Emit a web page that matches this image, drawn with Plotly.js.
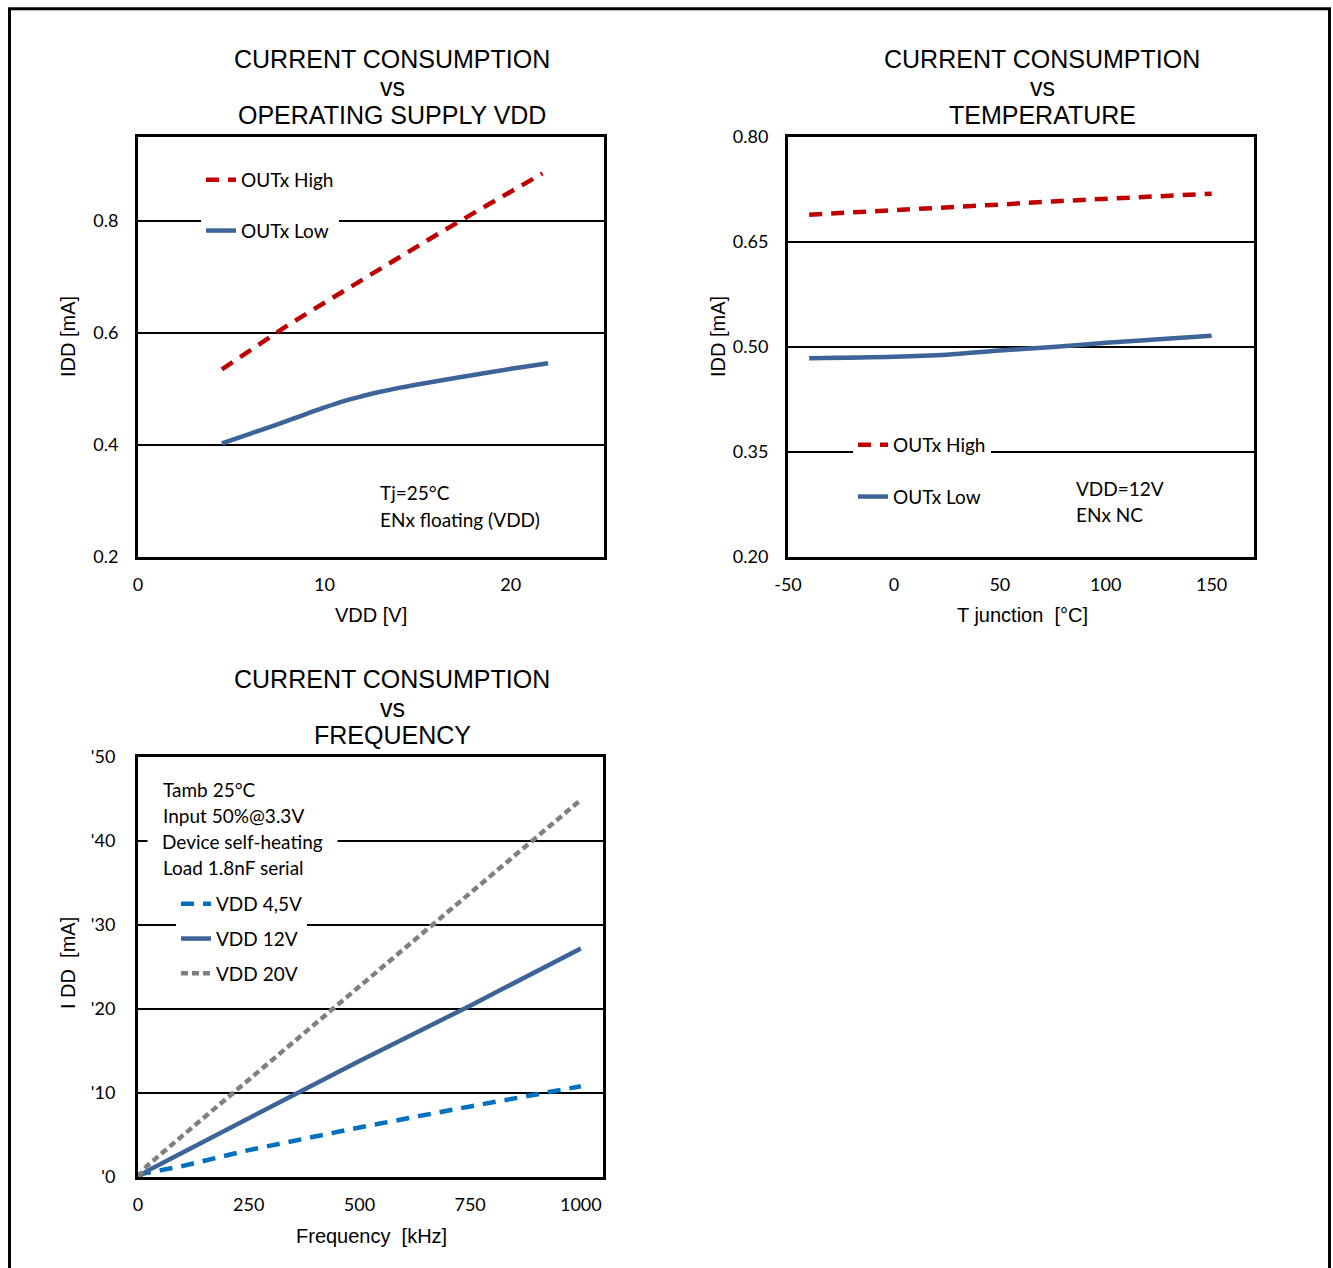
<!DOCTYPE html>
<html><head><meta charset="utf-8">
<script src="https://cdn.plot.ly/plotly-3.0.1.min.js"></script>
<style>html,body{margin:0;padding:0;background:#fff}</style>
</head><body><div id="chart" style="width:1333px;height:1268px"></div>
<script>
// ---------- Data ----------
// Chart 1: current vs supply VDD
const vddHighX = [4.5, 6, 8, 10, 12, 14, 16, 18, 20, 21.7];
const vddHighY = [0.535, 0.569, 0.613, 0.654, 0.695, 0.735, 0.775, 0.814, 0.852, 0.885];
const vddLowX  = [4.5, 6, 8, 10, 11, 12, 13, 14, 16, 18, 20, 22];
const vddLowY  = [0.403, 0.420, 0.443, 0.467, 0.478, 0.487, 0.495, 0.502, 0.514, 0.525, 0.536, 0.546];
const vddXTicks = [0, 10, 20];
const vddYTicks = [0.2, 0.4, 0.6, 0.8];

// Chart 2: current vs temperature
const tempX     = [-40, 0, 25, 50, 75, 100, 125, 150];
const tempHighY = [0.689, 0.695, 0.699, 0.7035, 0.708, 0.712, 0.7155, 0.719];
const tempLowY  = [0.484, 0.486, 0.489, 0.495, 0.500, 0.506, 0.511, 0.516];
const tempXTicks = [-50, 0, 50, 100, 150];
const tempXText  = ["-50", "0", "50", "100", "150"];
const tempYTicks = [0.20, 0.35, 0.50, 0.65, 0.80];

// Chart 3: current vs frequency
const freqX      = [0, 20, 100, 250, 500, 750, 1000];
const freq45Y    = [0.3, 0.5, 1.3, 3.2, 5.9, 8.4, 10.8];
const freq12Y    = [0, 0.7, 2.9, 7.0, 13.8, 20.4, 27.2];
const freq20Y    = [0, 1.3, 4.9, 11.6, 22.7, 33.8, 44.9];
const freqXTicks = [0, 250, 500, 750, 1000];
const freqYTicks = [0, 10, 20, 30, 40, 50];
const freqYText  = ["'0", "'10", "'20", "'30", "'40", "'50"];

const seriesNames1 = ["OUTx High", "OUTx Low"];
const seriesNames3 = ["VDD 4,5V", "VDD 12V", "VDD 20V"];
const title1 = ["CURRENT CONSUMPTION", "vs", "OPERATING SUPPLY VDD"];
const title2 = ["CURRENT CONSUMPTION", "vs", "TEMPERATURE"];
const title3 = ["CURRENT CONSUMPTION", "vs", "FREQUENCY"];
const note1 = ["Tj=25°C", "ENx floating (VDD)"];
const note2 = ["VDD=12V", "ENx NC"];
const note3 = ["Device self-heating", "Tamb 25°C", "Input 50%@3.3V", "Load 1.8nF serial"];

// ---------- Layout helpers ----------
const W = 1333, H = 1268;
const px = v => v / W;
const py = v => 1 - v / H;
const RED = '#C00000', BLUE = '#3D6498', LBLUE = '#0070C0', GRAY = '#808080';
const tickFont = {family: 'Lato, sans-serif', size: 18, color: '#000'};
const legFont = {family: 'Lato, sans-serif', size: 19, color: '#000'};

const traces = [
  {x: vddHighX, y: vddHighY, name: seriesNames1[0], xaxis: 'x', yaxis: 'y', legend: 'legend', legendgroup: 'a1',
   mode: 'lines', line: {color: RED, width: 4.5, dash: '13px,9px'}},
  {x: vddLowX, y: vddLowY, name: seriesNames1[1], xaxis: 'x', yaxis: 'y', legend: 'legend', legendgroup: 'a2',
   mode: 'lines', line: {color: BLUE, width: 4.5, shape: 'spline'}},
  {x: tempX, y: tempHighY, name: seriesNames1[0], xaxis: 'x2', yaxis: 'y2', legend: 'legend2', legendgroup: 'b1',
   mode: 'lines', line: {color: RED, width: 4.5, dash: '13px,9px'}},
  {x: tempX, y: tempLowY, name: seriesNames1[1], xaxis: 'x2', yaxis: 'y2', legend: 'legend2', legendgroup: 'b2',
   mode: 'lines', line: {color: BLUE, width: 4.5, shape: 'spline'}},
  {x: freqX, y: freq45Y, name: seriesNames3[0], xaxis: 'x3', yaxis: 'y3', legend: 'legend3', legendgroup: 'c1',
   mode: 'lines', line: {color: LBLUE, width: 4.5, dash: '13px,9px'}},
  {x: freqX, y: freq12Y, name: seriesNames3[1], xaxis: 'x3', yaxis: 'y3', legend: 'legend3', legendgroup: 'c2',
   mode: 'lines', line: {color: BLUE, width: 4.5}},
  {x: freqX, y: freq20Y, name: seriesNames3[2], xaxis: 'x3', yaxis: 'y3', legend: 'legend3', legendgroup: 'c3',
   mode: 'lines', line: {color: GRAY, width: 4.5, dash: '7px,4px'}}
];

function xAx(dom, anchor, range, ticks, extra) {
  return Object.assign({domain: dom, anchor: anchor, range: range, tickvals: ticks, showgrid: false, zeroline: false,
    showline: true, mirror: true, linecolor: '#000', linewidth: 3, ticks: 'outside', ticklen: 9,
    tickcolor: 'rgba(0,0,0,0)', tickfont: tickFont, fixedrange: true}, extra || {});
}
function yAx(dom, anchor, range, ticks, extra) {
  return Object.assign({domain: dom, anchor: anchor, range: range, tickvals: ticks, showgrid: true,
    gridcolor: '#000', gridwidth: 2, zeroline: false, showline: true, mirror: true, linecolor: '#000',
    linewidth: 3, ticks: 'outside', ticklen: 13, tickcolor: 'rgba(0,0,0,0)', tickfont: tickFont,
    fixedrange: true}, extra || {});
}

const ann = [];
function txt(t, x, y, opts) {
  ann.push(Object.assign({text: t, x: px(x), y: py(y), xref: 'paper', yref: 'paper', showarrow: false,
    xanchor: 'center', yanchor: 'middle',
    font: {family: 'Liberation Sans, Arial, sans-serif', size: 25, color: '#000'}}, opts || {}));
}
const titleYs1 = [59, 87, 115], titleYs3 = [679, 708, 735];
title1.forEach((t, i) => txt(t, 392, titleYs1[i]));
title2.forEach((t, i) => txt(t, 1042, titleYs1[i]));
title3.forEach((t, i) => txt(t, 392, titleYs3[i]));

const axTitleFont = {family: 'Liberation Sans, Arial, sans-serif', size: 20, color: '#000'};
txt('VDD [V]', 371, 615, {font: axTitleFont});
txt('IDD [mA]', 68, 337, {font: axTitleFont, textangle: -90});
txt('T junction  [°C]', 1022, 615, {font: axTitleFont});
txt('IDD [mA]', 718, 337, {font: axTitleFont, textangle: -90});
txt('Frequency  [kHz]', 371, 1236, {font: axTitleFont});
txt('I DD  [mA]', 68, 963, {font: axTitleFont, textangle: -90});

const noteFont = {family: 'Lato, sans-serif', size: 19, color: '#000'};
note1.forEach((t, i) => txt(t, 378, [492, 519][i], {font: noteFont, xanchor: 'left'}));
note2.forEach((t, i) => txt(t, 1074, [488, 515][i], {font: noteFont, xanchor: 'left'}));
// "Device self-heating" first: its white box breaks the gridline behind it
txt(note3[0], 147, 841, {font: noteFont, xanchor: 'left', bgcolor: '#fff', borderpad: 14, align: 'left'});
txt(note3[1], 161, 789, {font: noteFont, xanchor: 'left'});
txt(note3[2], 161, 815, {font: noteFont, xanchor: 'left'});
txt(note3[3], 161, 867, {font: noteFont, xanchor: 'left'});

const layout = {
  width: W, height: H, margin: {l: 0, r: 0, t: 0, b: 0}, paper_bgcolor: '#fff', plot_bgcolor: '#fff',
  showlegend: true,
  xaxis:  xAx([px(138), px(604)], 'y', [0, 25], vddXTicks),
  yaxis:  yAx([py(557), py(137)], 'x', [0.2, 0.95], vddYTicks),
  xaxis2: xAx([px(788), px(1254)], 'y2', [-50, 170], tempXTicks, {ticktext: tempXText}),
  yaxis2: yAx([py(557), py(137)], 'x2', [0.2, 0.8], tempYTicks, {tickformat: '.2f'}),
  xaxis3: xAx([px(138), px(603)], 'y3', [0, 1050], freqXTicks),
  yaxis3: yAx([py(1177), py(757)], 'x3', [0, 50], freqYTicks, {ticktext: freqYText, ticklen: 16}),
  legend:  {x: px(201), y: py(161), xanchor: 'left', yanchor: 'top', bgcolor: '#fff', font: legFont,
            traceorder: 'grouped', tracegroupgap: 23},
  legend2: {x: px(853), y: py(426), xanchor: 'left', yanchor: 'top', bgcolor: '#fff', font: legFont,
            traceorder: 'grouped', tracegroupgap: 24},
  legend3: {x: px(176), y: py(885), xanchor: 'left', yanchor: 'top', bgcolor: '#fff', font: legFont,
            traceorder: 'grouped', tracegroupgap: 7},
  annotations: ann,
  shapes: [{type: 'rect', xref: 'paper', yref: 'paper', x0: px(9.5), x1: px(1329.5), y0: -0.02, y1: py(8.7),
            line: {color: '#000', width: 3}, fillcolor: 'rgba(0,0,0,0)', layer: 'above'}]
};

Plotly.newPlot('chart', traces, layout, {displayModeBar: false, staticPlot: true});
</script></body></html>
